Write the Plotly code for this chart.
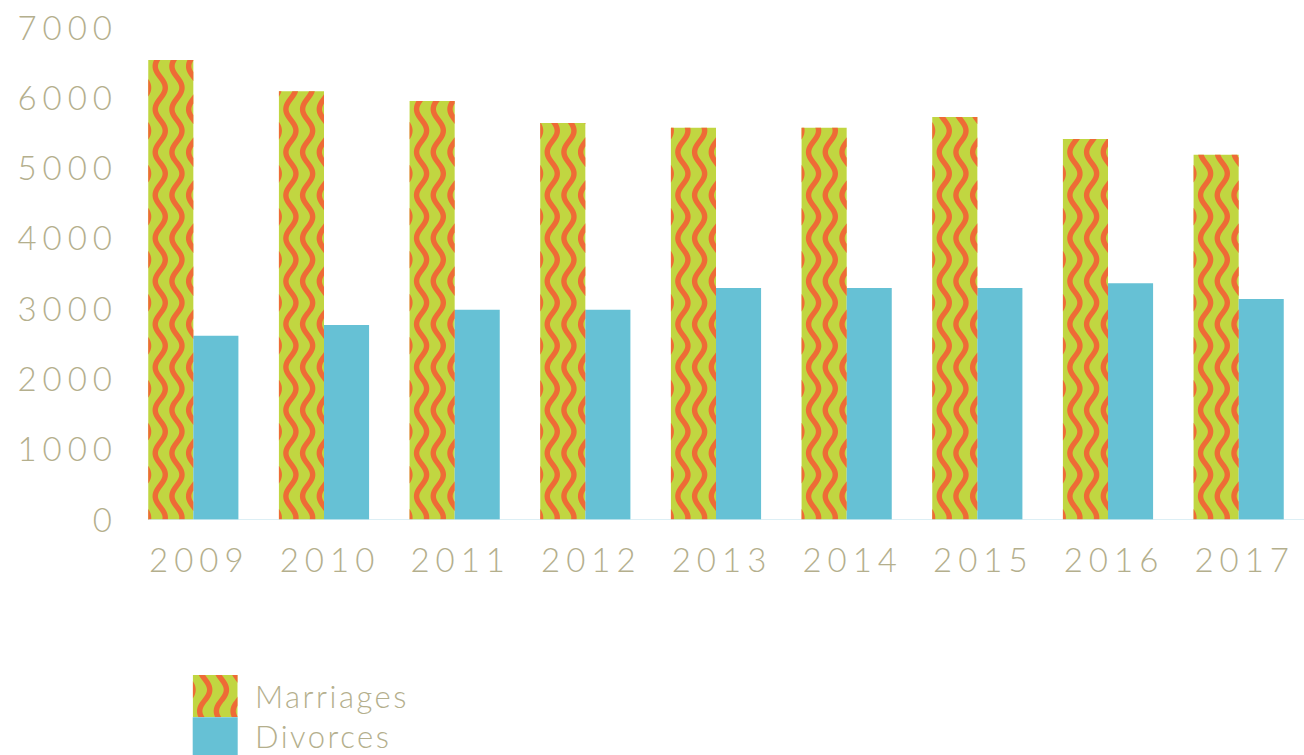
import math
import plotly.graph_objects as go

# ---- data -------------------------------------------------------------
years = ["2009", "2010", "2011", "2012", "2013", "2014", "2015", "2016", "2017"]
marriages = [6545, 6100, 5960, 5650, 5580, 5580, 5735, 5420, 5195]
divorces = [2620, 2775, 2990, 2990, 3300, 3300, 3300, 3370, 3145]
y_ticks = [0, 1000, 2000, 3000, 4000, 5000, 6000, 7000]

# ---- styling ------------------------------------------------------------
GREEN = "#c1d641"
ORANGE = "#ee6b36"
BLUE = "#66c1d5"
TEXT = "#b4af8d"
AXIS_LINE = "#d2eaf2"
FONT = "Lato"

W_FIG, H_FIG = 1304, 755
PLOT_L, PLOT_R = 128, 1304          # plot area, screen px
PLOT_T, PLOT_B = 28, 520
Y_MAX = 7000
BARGAP = 0.31

# wavy stripe decoration, in screen pixels
WAVE_SPACING = 16.7
WAVE_FIRST = -4.7
WAVE_AMP = 5.0
WAVE_PERIOD = 43.0
WAVE_STROKE = 5.4
WAVE_Y0 = 216.7


def spaced(text, px):
    return f'<span style="letter-spacing:{px}px">{text}</span>'


def wave_bands(x_left, x_per_px, width_px, y_base_screen, v_per_px, top):
    """Filled wavy stripes clipped to a rectangle, returned in axis units."""
    xs, ys = [], []
    top_px = top / v_per_px
    n = max(int(top_px * 2) + 2, 2)
    vs = [top * j / (n - 1) for j in range(n)]
    hw_max = WAVE_STROKE / 2 * math.sqrt(1 + (WAVE_AMP * 2 * math.pi / WAVE_PERIOD) ** 2)
    for k in range(-2, 8):
        c = WAVE_FIRST + k * WAVE_SPACING
        if c - WAVE_AMP - hw_max > width_px or c + WAVE_AMP + hw_max < 0:
            continue
        left, right = [], []
        for v in vs:
            sy = y_base_screen - v / v_per_px
            th = 2 * math.pi * (sy - WAVE_Y0) / WAVE_PERIOD
            xc = c + WAVE_AMP * math.cos(th)
            slope = -WAVE_AMP * 2 * math.pi / WAVE_PERIOD * math.sin(th)
            hw = WAVE_STROKE / 2 * math.sqrt(1 + slope * slope)
            left.append(min(max(xc - hw, 0), width_px))
            right.append(min(max(xc + hw, 0), width_px))
        xs += [x_left + p * x_per_px for p in left]
        xs += [x_left + p * x_per_px for p in reversed(right)]
        ys += vs + vs[::-1]
        xs.append(None)
        ys.append(None)
    return xs, ys


fig = go.Figure()

fig.add_trace(go.Bar(
    x=list(range(len(years))), y=marriages, name="Marriages",
    marker=dict(color=GREEN, line=dict(width=0)), hoverinfo="skip",
))
fig.add_trace(go.Bar(
    x=list(range(len(years))), y=divorces, name="Divorces",
    marker=dict(color=BLUE, line=dict(width=0)), hoverinfo="skip",
))

# wavy stripes over the marriage bars
px_per_cat = (PLOT_R - PLOT_L) / len(years)
px_per_val = (PLOT_B - PLOT_T) / Y_MAX
bar_w = (1 - BARGAP) / 2
wx, wy = [], []
for i, m in enumerate(marriages):
    bx, by = wave_bands(i - bar_w, 1 / px_per_cat, bar_w * px_per_cat,
                        PLOT_B, 1 / px_per_val, m)
    wx += bx
    wy += by
fig.add_trace(go.Scatter(
    x=wx, y=wy, mode="lines", fill="toself", fillcolor=ORANGE,
    line=dict(width=0, color=ORANGE, simplify=False),
    hoverinfo="skip", showlegend=False,
))

# baseline
fig.add_shape(type="line", xref="x", yref="y", x0=-bar_w, x1=len(years) - 0.5,
              y0=0, y1=0, line=dict(color=AXIS_LINE, width=1.5))

# ---- legend (large swatches) -------------------------------------------
SW_L, SW_R = 192.7, 237.7
SW_T, SW_MID, SW_BOT = 675.0, 717.3, 759.6
fig.add_trace(go.Bar(
    x=[0.5], y=[1], width=[1], xaxis="x2", yaxis="y2",
    marker=dict(color=GREEN, line=dict(width=0)), hoverinfo="skip", showlegend=False,
))
lx, ly = wave_bands(0, 1 / (SW_R - SW_L), SW_R - SW_L, SW_MID, 1 / (SW_MID - SW_T), 1)
fig.add_trace(go.Scatter(
    x=lx, y=ly, xaxis="x2", yaxis="y2", mode="lines", fill="toself",
    fillcolor=ORANGE, line=dict(width=0, color=ORANGE, simplify=False),
    hoverinfo="skip", showlegend=False,
))
fig.add_shape(type="rect", xref="paper", yref="paper",
              x0=SW_L / W_FIG, x1=SW_R / W_FIG,
              y0=(H_FIG - SW_BOT) / H_FIG, y1=(H_FIG - SW_MID) / H_FIG,
              line=dict(width=0), fillcolor=BLUE)
for label, cy in (("Marriages", 696.0), ("Divorces", 736.0)):
    fig.add_annotation(
        text=spaced(label, 2.5), x=253 / W_FIG, y=(H_FIG - cy) / H_FIG,
        xref="paper", yref="paper", xanchor="left", yanchor="middle",
        showarrow=False, font=dict(family=FONT, size=31, color=TEXT, weight=300),
    )

fig.update_layout(
    width=W_FIG, height=H_FIG, autosize=False,
    margin=dict(l=0, r=0, t=0, b=0, pad=0, autoexpand=False),
    paper_bgcolor="white", plot_bgcolor="white",
    barmode="group", bargap=BARGAP, bargroupgap=0,
    showlegend=False,
    font=dict(family=FONT, color=TEXT, weight=300),
    xaxis=dict(
        domain=[PLOT_L / W_FIG, PLOT_R / W_FIG],
        range=[-0.5, len(years) - 0.5],
        tickmode="array", tickvals=list(range(len(years))),
        ticktext=[spaced(y, 6) for y in years],
        tickfont=dict(family=FONT, size=33, color=TEXT, weight=300),
        showgrid=False, zeroline=False, showline=False, ticks="",
        ticklabelstandoff=18, ticklabelshift=6, fixedrange=True,
        automargin=False,
    ),
    yaxis=dict(
        domain=[(H_FIG - PLOT_B) / H_FIG, (H_FIG - PLOT_T) / H_FIG],
        range=[0, Y_MAX],
        tickmode="array", tickvals=y_ticks,
        ticktext=[spaced(str(t), 6) for t in y_ticks],
        tickfont=dict(family=FONT, size=33, color=TEXT, weight=300),
        showgrid=False, zeroline=False, showline=False, ticks="",
        ticklabelstandoff=9, fixedrange=True, automargin=False,
    ),
    xaxis2=dict(domain=[SW_L / W_FIG, SW_R / W_FIG], range=[0, 1],
                visible=False, fixedrange=True, anchor="y2"),
    yaxis2=dict(domain=[(H_FIG - SW_MID) / H_FIG, (H_FIG - SW_T) / H_FIG],
                range=[0, 1], visible=False, fixedrange=True, anchor="x2"),
)

fig.write_html("out.html")
